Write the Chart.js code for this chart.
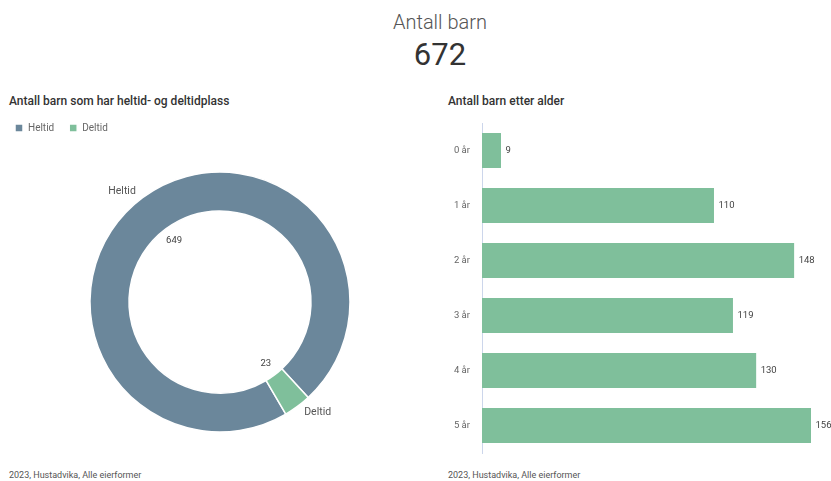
<!DOCTYPE html>
<html>
<head>
<meta charset="utf-8">
<script src="https://cdn.jsdelivr.net/npm/chart.js@4.4.0/dist/chart.umd.min.js"></script>
<style>
  html, body { margin: 0; padding: 0; background: #fff; }
  body { width: 831px; height: 481px; position: relative; overflow: hidden; font-family: Roboto, sans-serif; }
  .txt { position: absolute; white-space: nowrap; line-height: 1; }
  #title { left: 0; width: 880px; text-align: center; top: 12px; font-size: 20px; font-weight: 300; color: #555; }
  #total { left: 0; width: 880px; text-align: center; top: 39px; font-size: 31px; color: #333; }
  .sub { top: 95px; font-size: 12px; font-weight: 500; color: #333; }
  .foot { top: 471px; font-size: 9px; color: #555; }
  .box { position: absolute; }
</style>
</head>
<body>
<div id="title" class="txt">Antall barn</div>
<div id="total" class="txt">672</div>

<div class="txt sub" style="left:9px">Antall barn som har heltid- og deltidplass</div>
<div class="txt sub" style="left:448px">Antall barn etter alder</div>

<div class="box" style="left:0; top:108px; width:440px; height:353px"><canvas id="typeChart"></canvas></div>
<div class="box" style="left:440px; top:115px; width:391px; height:345px"><canvas id="ageChart"></canvas></div>

<div class="txt foot" style="left:9px">2023, Hustadvika, Alle eierformer</div>
<div class="txt foot" style="left:448px">2023, Hustadvika, Alle eierformer</div>

<script>
// ---- data ----
const typeLabels = ["Heltid", "Deltid"];
const typeValues = [649, 23];
const typeColors = ["#6b879b", "#7fbf9b"];

const ageLabels = ["0 år", "1 år", "2 år", "3 år", "4 år", "5 år"];
const ageValues = [9, 110, 148, 119, 130, 156];

Chart.defaults.font.family = "Roboto, sans-serif";
Chart.defaults.animation = false;


/* ======================================
   DOUGHNUT LABELS
====================================== */
const doughnutLabels = {
  id: "doughnutLabels",
  afterDatasetsDraw(chart) {
    const ctx = chart.ctx;
    const meta = chart.getDatasetMeta(0);
    ctx.save();
    ctx.textBaseline = "middle";
    meta.data.forEach((arc, i) => {
      const mid = (arc.startAngle + arc.endAngle) / 2;
      const cos = Math.cos(mid), sin = Math.sin(mid);

      // category name outside the ring
      const ro = arc.outerRadius + 8;
      ctx.font = "10.5px Roboto, sans-serif";
      ctx.fillStyle = "#555";
      ctx.textAlign = cos < 0 ? "right" : "left";
      ctx.fillText(typeLabels[i], arc.x + ro * cos + (cos < 0 ? -2 : 2), arc.y + ro * sin);

      // value just inside the hole
      const ri = arc.innerRadius - 14;
      ctx.font = "9.5px Roboto, sans-serif";
      ctx.fillStyle = "#444";
      ctx.textAlign = "center";
      ctx.fillText(typeValues[i], arc.x + ri * cos, arc.y + ri * sin);
    });
    ctx.restore();
  }
};

new Chart(document.getElementById("typeChart"), {
  type: "doughnut",
  data: {
    labels: typeLabels,
    datasets: [{
      data: typeValues,
      backgroundColor: typeColors,
      borderColor: "#fff",
      borderWidth: 1.5,
      hoverOffset: 0
    }]
  },
  options: {
    responsive: true,
    maintainAspectRatio: false,
    radius: 130,
    cutout: "70%",
    rotation: 149.6,
    plugins: {
      legend: {
        position: "top",
        align: "start",
        labels: {
          boxWidth: 8,
          boxHeight: 8,
          padding: 15,
          color: "#666",
          font: { size: 10 }
        }
      },
      tooltip: { enabled: false }
    }
  },
  plugins: [doughnutLabels]
});


/* ======================================
   BAR VALUE LABELS
====================================== */
const barLabels = {
  id: "barLabels",
  afterDatasetsDraw(chart) {
    const ctx = chart.ctx;
    const meta = chart.getDatasetMeta(0);
    ctx.save();
    ctx.font = "9.5px Roboto, sans-serif";
    ctx.fillStyle = "#444";
    ctx.textAlign = "left";
    ctx.textBaseline = "middle";
    meta.data.forEach((bar, i) => {
      ctx.fillText(ageValues[i], bar.x + 4.5, bar.y);
    });
    ctx.restore();
  }
};

new Chart(document.getElementById("ageChart"), {
  type: "bar",
  data: {
    labels: ageLabels,
    datasets: [{
      data: ageValues,
      backgroundColor: "#7fbf9b",
      categoryPercentage: 1,
      barPercentage: 0.636
    }]
  },
  options: {
    indexAxis: "y",
    responsive: true,
    maintainAspectRatio: false,
    layout: { padding: { top: 8, bottom: 7, right: 20, left: 0 } },
    scales: {
      x: { display: false, min: 0, max: 156 },
      y: {
        grid: { display: false, drawTicks: false },
        border: { display: true, color: "#ccd6eb", width: 1 },
        ticks: { color: "#666", padding: 12, font: { size: 9.5 } },
        afterFit(scale) {
          scale.width = 42;
          scale.paddingTop = 0;
          scale.paddingBottom = 0;
        }
      }
    },
    plugins: {
      legend: { display: false },
      tooltip: { enabled: false }
    }
  },
  plugins: [barLabels]
});
</script>
</body>
</html>
